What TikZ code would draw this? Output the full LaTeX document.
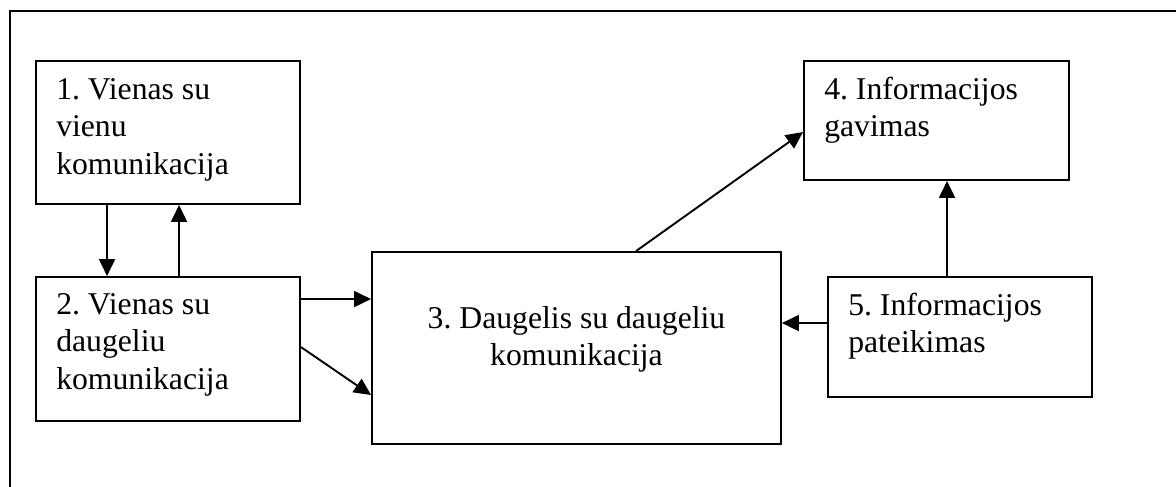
\documentclass[tikz,border=0pt]{standalone}
\usepackage{fontspec}
\setmainfont{Liberation Serif}
\usetikzlibrary{arrows.meta,calc}
\frenchspacing
\begin{document}
\begin{tikzpicture}[x=1pt,y=-1pt,
  box/.style={draw,line width=1.9pt,rectangle,inner sep=0pt},
  txt/.style={inner sep=0pt,font=\fontsize{31.7}{37.5}\selectfont\frenchspacing},
  arr/.style={line width=1.9pt,-{Triangle[length=17pt,width=16pt]}},
  frame/.style={line width=1.9pt}]
\useasboundingbox (0,0) rectangle (1176,487);
\draw[frame] (1176,11) -- (10,11) -- (10,487);
% boxes
\node[box,minimum width=264pt,minimum height=143pt] (b1) at (168,132.5) {};
\node[box,minimum width=264pt,minimum height=144pt] (b2) at (168,349) {};
\node[box,minimum width=409pt,minimum height=192pt] (b3) at (576.5,348) {};
\node[box,minimum width=265pt,minimum height=119pt] (b4) at (936.5,120.5) {};
\node[box,minimum width=264pt,minimum height=120pt] (b5) at (960,337) {};
% texts
\node[txt,anchor=base west] (t1) at ($(b1.north west)+(21,39)$) {\begin{tabular}[t]{@{}l@{}}1. Vienas su\\vienu\\komunikacija\end{tabular}};
\node[txt,anchor=base west] (t2) at ($(b2.north west)+(21,38)$) {\begin{tabular}[t]{@{}l@{}}2. Vienas su\\daugeliu\\komunikacija\end{tabular}};
\node[txt,anchor=base] (t3) at ($(b3.north)+(0,77)$) {\begin{tabular}[t]{@{}c@{}}3. Daugelis su daugeliu\\komunikacija\end{tabular}};
\node[txt,anchor=base west] (t4) at ($(b4.north west)+(21,39)$) {\begin{tabular}[t]{@{}l@{}}4. Informacijos\\gavimas\end{tabular}};
\node[txt,anchor=base west] (t5) at ($(b5.north west)+(21,39)$) {\begin{tabular}[t]{@{}l@{}}5. Informacijos\\pateikimas\end{tabular}};
% connectors
\draw[arr] ($(b1.south west)+(72,0)$) -- ($(b2.north west)+(72,0)$);
\draw[arr] ($(b2.north west)+(144,0)$) -- ($(b1.south west)+(144,0)$);
\coordinate (p1) at ($(b2.north east)+(0,23)$);
\draw[arr] (p1) -- (p1 -| b3.west);
\draw[arr] ($(b2.north east)+(0,71)$) -- ($(b3.north west)+(0,144)$);
\draw[arr] ($(b3.north west)+(265,0)$) -- ($(b4.north west)+(0,72)$);
\coordinate (p2) at ($(b5.north west)+(0,47)$);
\draw[arr] (p2) -- (p2 -| b3.east);
\coordinate (p3) at ($(b5.north west)+(120,0)$);
\draw[arr] (p3) -- (p3 |- b4.south);
\end{tikzpicture}
\end{document}
